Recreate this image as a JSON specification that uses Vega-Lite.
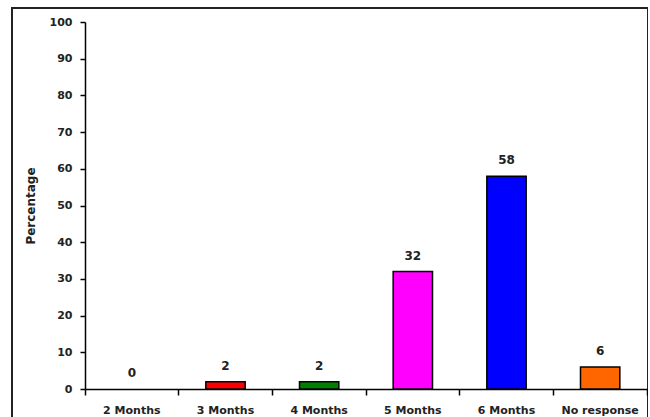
{
  "$schema": "https://vega.github.io/schema/vega-lite/v6.json",
  "width": 636,
  "height": 440,
  "autosize": "none",
  "padding": {"left": 12, "top": 8, "right": 0, "bottom": 0},
  "background": "white",
  "config": {
    "view": {"stroke": "#222222", "strokeWidth": 2},
    "font": "DejaVu Sans",
    "axis": {"grid": false}
  },
  "data": {
    "values": [
      {"category": "2 Months", "value": 0, "color": "#FFFFFF"},
      {"category": "3 Months", "value": 2, "color": "#FF0000"},
      {"category": "4 Months", "value": 2, "color": "#008000"},
      {"category": "5 Months", "value": 32, "color": "#FF00FF"},
      {"category": "6 Months", "value": 58, "color": "#0000FF"},
      {"category": "No response", "value": 6, "color": "#FF6600"}
    ]
  },
  "encoding": {
    "x": {
      "field": "category",
      "type": "nominal",
      "sort": null,
      "scale": {"range": [73, 635], "paddingInner": 0, "paddingOuter": 0},
      "axis": {
        "title": null,
        "offset": -59,
        "bandPosition": 1,
        "tickExtra": true,
        "labelAngle": 0,
        "labelFont": "DejaVu Sans",
        "labelFontWeight": "bold",
        "labelFontSize": 11,
        "labelColor": "#222222",
        "labelPadding": 9,
        "tickSize": 6,
        "tickColor": "#000000",
        "tickWidth": 1.5,
        "domainColor": "#000000",
        "domainWidth": 1.5
      }
    },
    "y": {
      "field": "value",
      "type": "quantitative",
      "scale": {"domain": [0, 100], "range": [381, 14], "nice": false},
      "axis": {
        "title": "Percentage",
        "offset": -73,
        "values": [0, 10, 20, 30, 40, 50, 60, 70, 80, 90, 100],
        "labelFont": "DejaVu Sans",
        "labelFontWeight": "bold",
        "labelFontSize": 11,
        "labelColor": "#222222",
        "labelPadding": 8,
        "tickSize": 5,
        "tickColor": "#000000",
        "tickWidth": 1.5,
        "domainColor": "#000000",
        "domainWidth": 1.5,
        "titleFont": "DejaVu Sans",
        "titleFontWeight": "bold",
        "titleFontSize": 12,
        "titleColor": "#222222",
        "titlePadding": 12
      }
    }
  },
  "layer": [
    {
      "mark": {"type": "bar", "width": {"band": 0.42}, "stroke": "#000000", "strokeWidth": 1.5},
      "encoding": {
        "color": {"field": "color", "type": "nominal", "scale": null, "legend": null},
        "strokeOpacity": {"condition": {"test": "datum.value > 0", "value": 1}, "value": 0}
      }
    },
    {
      "mark": {"type": "text", "baseline": "bottom", "dy": -9, "font": "DejaVu Sans", "fontWeight": "bold", "fontSize": 12, "color": "#222222"},
      "encoding": {
        "text": {"field": "value", "type": "quantitative"}
      }
    }
  ]
}
